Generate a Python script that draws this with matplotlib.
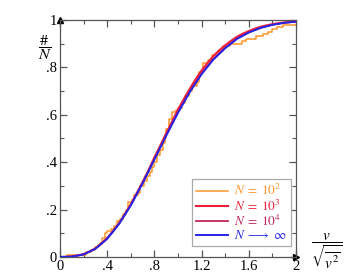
import matplotlib
matplotlib.use("Agg")
import matplotlib.pyplot as plt
from matplotlib.ticker import MultipleLocator, FixedLocator

plt.rcParams['font.family'] = ['Liberation Serif', 'DejaVu Serif']
plt.rcParams['mathtext.fontset'] = 'stix'

# N = 10^2 empirical CDF (step vertices)
x_n2 = [0.00, 0.06, 0.22, 0.26, 0.30, 0.32, 0.34, 0.36, 0.38, 0.40, 0.43, 0.46, 0.48,
        0.51, 0.53, 0.56, 0.58, 0.61, 0.63, 0.66, 0.68, 0.71, 0.74, 0.76, 0.78, 0.80,
        0.82, 0.85, 0.87, 0.89, 0.90, 0.92, 0.95, 0.98, 1.00, 1.03, 1.06, 1.09, 1.12,
        1.16, 1.18, 1.21, 1.25, 1.29, 1.34, 1.38, 1.44, 1.54, 1.58, 1.66, 1.72, 1.76,
        1.80, 1.84, 1.89, 2.00]
y_n2 = [0.00, 0.01, 0.02, 0.03, 0.04, 0.05, 0.06, 0.08, 0.10, 0.11, 0.12, 0.13, 0.15,
        0.16, 0.18, 0.20, 0.23, 0.24, 0.26, 0.27, 0.30, 0.32, 0.34, 0.36, 0.38, 0.40,
        0.43, 0.45, 0.48, 0.50, 0.54, 0.58, 0.61, 0.62, 0.63, 0.65, 0.68, 0.70, 0.72,
        0.74, 0.78, 0.82, 0.83, 0.85, 0.87, 0.89, 0.90, 0.91, 0.92, 0.93, 0.94, 0.95,
        0.96, 0.97, 0.98, 0.98]

# N = 10^3
x_n3 = [0.00, 0.05, 0.10, 0.15, 0.20, 0.25, 0.30, 0.35, 0.40, 0.45, 0.50, 0.55, 0.60,
        0.65, 0.70, 0.75, 0.80, 0.85, 0.90, 0.95, 1.00, 1.05, 1.10, 1.15, 1.20, 1.25,
        1.30, 1.35, 1.40, 1.45, 1.50, 1.55, 1.60, 1.65, 1.70, 1.75, 1.80, 1.85, 1.90,
        1.95, 2.00]
y_n3 = [0.000, 0.000, 0.002, 0.006, 0.012, 0.022, 0.036, 0.055, 0.080, 0.108, 0.142,
        0.180, 0.222, 0.268, 0.316, 0.366, 0.420, 0.470, 0.522, 0.572, 0.622, 0.667,
        0.710, 0.750, 0.787, 0.818, 0.848, 0.872, 0.893, 0.912, 0.929, 0.942, 0.953,
        0.963, 0.971, 0.977, 0.982, 0.986, 0.989, 0.991, 0.993]

# N = 10^4
x_n4 = [0.0, 0.1, 0.2, 0.3, 0.4, 0.5, 0.6, 0.7, 0.8, 0.9, 1.0, 1.1, 1.2, 1.3, 1.4,
        1.5, 1.6, 1.7, 1.8, 1.9, 2.0]
y_n4 = [0.000, 0.002, 0.011, 0.036, 0.079, 0.142, 0.221, 0.314, 0.415, 0.516, 0.612,
        0.700, 0.775, 0.836, 0.883, 0.922, 0.948, 0.967, 0.980, 0.988, 0.993]

# N -> infinity
x_inf = [0.0, 0.1, 0.2, 0.3, 0.4, 0.5, 0.6, 0.7, 0.8, 0.9, 1.0, 1.1, 1.2, 1.3, 1.4,
         1.5, 1.6, 1.7, 1.8, 1.9, 2.0]
y_inf = [0.000, 0.0014, 0.0106, 0.0344, 0.0766, 0.1386, 0.2174, 0.3106, 0.4110,
         0.5115, 0.6083, 0.6957, 0.7713, 0.8330, 0.8807, 0.9200, 0.9467, 0.9661,
         0.9789, 0.9874, 0.9926]

x_ticks = [0, 0.4, 0.8, 1.2, 1.6, 2.0]
x_ticklabels = ['0', '.4', '.8', '1.2', '1.6', '2']
y_ticks = [0, 0.2, 0.4, 0.6, 0.8, 1.0]
y_ticklabels = ['0', '.2', '.4', '.6', '.8', '1']

c_n2 = '#FF9426'
c_n3 = '#F0203A'
c_n4 = '#C0245E'
c_inf = '#2424E6'
axc = '#555555'

fig = plt.figure(figsize=(3.55, 2.76), dpi=100)
ax = fig.add_axes([0.169, 0.069, 0.665, 0.859])

ax.step(x_n2, y_n2, where='post', color=c_n2, lw=1.1, label=r'$N\;=\;10^2$', zorder=2)
ax.plot(x_n3, y_n3, color=c_n3, lw=1.5, label=r'$N\;=\;10^3$', zorder=3)
ax.plot(x_n4, y_n4, color=c_n4, lw=1.3, label=r'$N\;=\;10^4$', zorder=3)
ax.plot(x_inf, y_inf, color=c_inf, lw=1.4, label=r'$N\;\longrightarrow\;\infty$', zorder=4)

ax.set_xlim(0, 2)
ax.set_ylim(0, 1)
ax.xaxis.set_major_locator(FixedLocator(x_ticks))
ax.set_xticklabels(x_ticklabels)
ax.yaxis.set_major_locator(FixedLocator(y_ticks))
ax.set_yticklabels(y_ticklabels)
ax.xaxis.set_minor_locator(MultipleLocator(0.2))
ax.yaxis.set_minor_locator(MultipleLocator(0.1))
ax.tick_params(which='both', direction='in', top=True, right=True, color=axc,
               labelsize=10.5, pad=2)
ax.tick_params(which='major', length=5, width=0.9)
ax.tick_params(which='minor', length=3, width=0.8)
for s in ax.spines.values():
    s.set_color(axc)
    s.set_linewidth(0.9)

# axis arrows
ax.plot(1, 0, marker='>', color='black', ms=4, transform=ax.transAxes, clip_on=False)
ax.plot(0, 1, marker='^', color='black', ms=4, transform=ax.transAxes, clip_on=False)

ax.text(-0.065, 0.885, r'$\dfrac{\#}{N}$', transform=ax.transAxes, fontsize=11.5,
        ha='center', va='center')
ax.text(1.13, 0.025, r'$\dfrac{v}{\sqrt{\overline{v^2}}}$', transform=ax.transAxes,
        fontsize=11, ha='center', va='center')

leg = ax.legend(loc='lower right', bbox_to_anchor=(0.978, 0.045), fontsize=9.5,
                frameon=True, fancybox=False, edgecolor='#AAAAAA', framealpha=1,
                handlelength=2.4, handletextpad=0.5, borderpad=0.3, labelspacing=0.02,
                borderaxespad=0)
leg.get_frame().set_linewidth(0.9)
for t, c in zip(leg.get_texts(), [c_n2, c_n3, c_n4, c_inf]):
    t.set_color(c)

fig.savefig('out.png', dpi=100)
